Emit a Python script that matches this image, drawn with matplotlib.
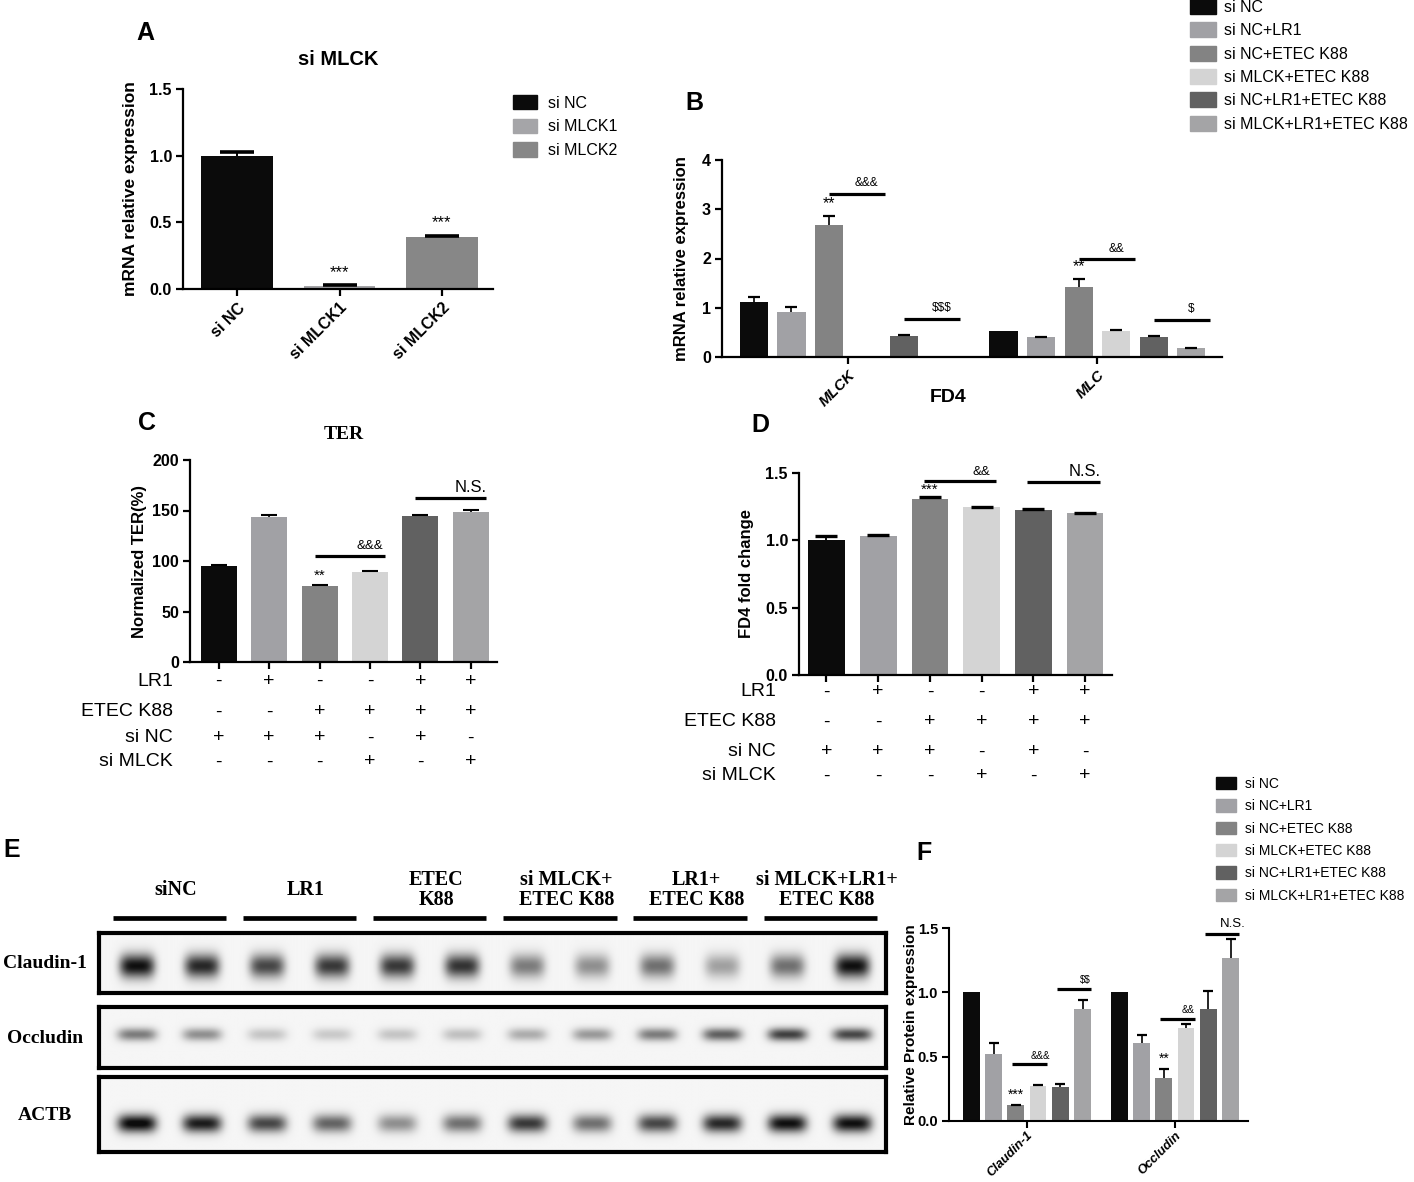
import numpy as np
import matplotlib
matplotlib.use('Agg')
import matplotlib.pyplot as plt
from matplotlib.patches import Patch

# ---------------- data ----------------
a_groups = ['si NC', 'si MLCK1', 'si MLCK2']
a_values = [1.0, 0.02, 0.39]
a_errors = [0.03, 0.01, 0.01]

treatments = ['si NC', 'si NC+LR1', 'si NC+ETEC K88', 'si MLCK+ETEC K88',
              'si NC+LR1+ETEC K88', 'si MLCK+LR1+ETEC K88']

b_genes = ['MLCK', 'MLC']
b_mlck = [1.12, 0.92, 2.69, 0.01, 0.43, 0.02]
b_mlck_err = [0.09, 0.09, 0.18, 0.0, 0.01, 0.0]
b_mlc = [0.52, 0.40, 1.43, 0.53, 0.40, 0.18]
b_mlc_err = [0.0, 0.01, 0.16, 0.01, 0.02, 0.01]

c_ter = [95.5, 144.0, 75.5, 89.5, 145.0, 148.5]
c_ter_err = [1.0, 1.5, 0.5, 0.4, 0.3, 1.8]

d_fd4 = [1.005, 1.035, 1.31, 1.245, 1.225, 1.20]
d_fd4_err = [0.025, 0.006, 0.01, 0.006, 0.01, 0.006]

table_rows = ['LR1', 'ETEC K88', 'si NC', 'si MLCK']
table_lr1 = ['-', '+', '-', '-', '+', '+']
table_etec = ['-', '-', '+', '+', '+', '+']
table_sinc = ['+', '+', '+', '-', '+', '-']
table_simlck = ['-', '-', '-', '+', '-', '+']

e_groups = ['siNC', 'LR1', 'ETEC\nK88', 'si MLCK+\nETEC K88', 'LR1+\nETEC K88',
            'si MLCK+LR1+\nETEC K88']
e_blots = ['Claudin-1', 'Occludin', 'ACTB']
e_claudin = [0.95, 0.85, 0.72, 0.78, 0.78, 0.80, 0.50, 0.42, 0.55, 0.35, 0.55, 0.95]
e_occludin = [0.50, 0.42, 0.20, 0.18, 0.20, 0.22, 0.30, 0.38, 0.50, 0.62, 0.75, 0.72]
e_actb = [1.00, 0.90, 0.72, 0.60, 0.42, 0.55, 0.78, 0.55, 0.72, 0.85, 0.95, 0.95]

f_proteins = ['Claudin-1', 'Occludin']
f_claudin = [1.0, 0.52, 0.122, 0.275, 0.265, 0.87]
f_claudin_err = [0.0, 0.09, 0.003, 0.006, 0.02, 0.07]
f_occludin = [1.0, 0.61, 0.333, 0.722, 0.87, 1.27]
f_occludin_err = [0.0, 0.06, 0.07, 0.03, 0.14, 0.145]

# significance marks: (group, bar_i, bar_j, line level, label)
b_sig = [(0, 2, 3, 3.31, '&&&'), (0, 4, 5, 0.77, '$$$'), (1, 2, 3, 1.98, '&&'), (1, 4, 5, 0.75, '$')]
c_sig = [(2, 3, 105, '&&&'), (4, 5, 162, 'N.S.')]
d_sig = [(2, 3, 1.438, '&&'), (4, 5, 1.43, 'N.S.')]
f_sig = [(0, 2, 3, 0.44, '&&&'), (0, 4, 5, 1.024, '$$'), (1, 2, 3, 0.795, '&&'), (1, 4, 5, 1.456, 'N.S.')]

# ---------------- style ----------------
W, H = 1414, 1182
SANS = 'Liberation Sans'
SERIF = 'Liberation Serif'
plt.rcParams['font.family'] = [SANS, 'DejaVu Sans']
plt.rcParams['text.parse_math'] = False
colors6 = ['#0b0b0b', '#a1a1a5', '#838383', '#d4d4d4', '#616161', '#a4a4a6']
colorsA = ['#0b0b0b', '#a5a5a8', '#878787']

fig = plt.figure(figsize=(W / 100, H / 100), dpi=100)


def rect(l, t, r, b):
    return [l / W, 1 - b / H, (r - l) / W, (b - t) / H]


def style(ax, lw=1.6):
    for s in ['top', 'right']:
        ax.spines[s].set_visible(False)
    for s in ['left', 'bottom']:
        ax.spines[s].set_linewidth(lw)
    ax.tick_params(width=lw, length=5, direction='out', pad=3)


def up_err(ax, x, y, e, cap, lw=1.3, ct=2.2):
    x = np.asarray(x, float); y = np.asarray(y, float); e = np.asarray(e, float)
    m = e > 0
    if not m.any():
        return
    _, caps, _ = ax.errorbar(x[m], y[m], yerr=[np.zeros(m.sum()), e[m]], fmt='none',
                             ecolor='black', elinewidth=lw, capsize=cap, capthick=ct,
                             zorder=3)
    caps[0].set_visible(False)


def yticks_bold(ax, ticks, fmt, size):
    ax.set_yticks(ticks, [fmt.format(t) for t in ticks], fontweight='bold', fontsize=size)


def sig(ax, x0, x1, yl, label, xt, size, dy):
    ax.plot([x0, x1], [yl, yl], color='black', lw=2.3, solid_capstyle='butt', clip_on=False)
    ax.text(xt, yl + dy, label, ha='center', va='bottom', fontsize=size, clip_on=False)


# ---------------- panel A ----------------
axA = fig.add_axes(rect(183, 89, 493, 289))
style(axA)
xa = np.arange(len(a_values))
axA.bar(xa, a_values, width=0.7, color=colorsA)
up_err(axA, xa, a_values, a_errors, cap=12, lw=1.4, ct=2.6)
axA.set_xlim(-0.53, 2.5)
axA.set_ylim(0, 1.5)
yticks_bold(axA, [0, 0.5, 1.0, 1.5], '{:.1f}', 11.5)
axA.set_xticks(xa, a_groups, rotation=45, ha='right', rotation_mode='anchor',
               fontweight='bold', fontsize=11.5)
axA.set_ylabel('mRNA relative expression', fontweight='bold', fontsize=12.5)
axA.yaxis.set_label_coords(-0.145, 0.5)
for i in (1, 2):
    axA.text(xa[i], a_values[i] + a_errors[i] + 0.04, '***', ha='center', va='bottom', fontsize=12)
axA.set_title('si MLCK', fontweight='bold', fontsize=14.5, pad=17)
axA.legend([Patch(color=c) for c in colorsA], a_groups, loc='upper left',
           bbox_to_anchor=(513 / W, 1 - 95 / H), bbox_transform=fig.transFigure,
           frameon=False, fontsize=11.5, handlelength=1.5, handleheight=1.0,
           labelspacing=0.5, handletextpad=0.7, borderpad=0, borderaxespad=0)

# ---------------- panel B ----------------
axB = fig.add_axes(rect(722, 160, 1222, 357))
style(axB)
gc = np.array([0.0, 6.65])
off = np.arange(6) - 2.5
for g, (vals, errs) in enumerate([(b_mlck, b_mlck_err), (b_mlc, b_mlc_err)]):
    xs = gc[g] + off
    axB.bar(xs, vals, width=0.75, color=colors6)
    up_err(axB, xs, vals, errs, cap=4.5, lw=1.2, ct=1.6)
    axB.text(xs[2], vals[2] + errs[2] + 0.1, '**', ha='center', va='bottom', fontsize=11.5)
for g, i, j, yl, lab in b_sig:
    x0 = gc[g] + off[i]
    x1 = gc[g] + off[j] + 0.5
    sig(axB, x0, x1, yl, lab, gc[g] + off[j], 8.5, 0.1)
axB.set_xlim(-3.35, 9.97)
axB.set_ylim(0, 4)
yticks_bold(axB, [0, 1, 2, 3, 4], '{:.0f}', 11.5)
axB.set_xticks(gc, b_genes, rotation=45, ha='right', rotation_mode='anchor',
               fontweight='bold', fontstyle='italic', fontsize=11)
axB.set_ylabel('mRNA relative expression', fontweight='bold', fontsize=12)
axB.yaxis.set_label_coords(-0.066, 0.5)
axB.legend([Patch(color=c) for c in colors6], treatments, loc='upper left',
           bbox_to_anchor=(1190 / W, 1 + 1 / H), bbox_transform=fig.transFigure,
           frameon=False, fontsize=11.5, handlelength=1.6, handleheight=1.05,
           labelspacing=0.47, handletextpad=0.55, borderpad=0, borderaxespad=0)
fig.text(948 / W, 1 - 398 / H, 'FD4', ha='center', va='center', fontweight='bold', fontsize=14)


# ---------------- table helper ----------------
def table(ax, rows_y, label_x, size):
    cols = [table_lr1, table_etec, table_sinc, table_simlck]
    xt = ax.get_xaxis_transform()
    for r, (name, col) in enumerate(zip(table_rows, cols)):
        ax.text(label_x, rows_y[r], name, transform=ax.transAxes, ha='right', va='center',
                fontsize=size, clip_on=False)
        for k, s in enumerate(col):
            ax.text(k, rows_y[r], s, transform=xt, ha='center', va='center',
                    fontsize=size, clip_on=False)


# ---------------- panel C ----------------
axC = fig.add_axes(rect(190, 460, 497, 662))
style(axC)
xc = np.arange(6)
axC.bar(xc, c_ter, width=0.715, color=colors6)
up_err(axC, xc, c_ter, c_ter_err, cap=5.5, lw=1.2, ct=1.5)
axC.set_xlim(-0.57, 5.52)
axC.set_ylim(0, 200)
yticks_bold(axC, [0, 50, 100, 150, 200], '{:.0f}', 11.5)
axC.set_xticks(xc, [''] * 6)
axC.set_ylabel('Normalized TER(%)', fontweight='bold', fontsize=12)
axC.yaxis.set_label_coords(-0.14, 0.5)
axC.text(xc[2], c_ter[2] + 3, '**', ha='center', va='bottom', fontsize=11)
for i, j, yl, lab in c_sig:
    sig(axC, xc[i] - 0.1, xc[j] + 0.3, yl, lab, xc[j], 9.5 if lab != 'N.S.' else 12, 3.5)
axC.set_title('TER', fontfamily=SERIF, fontweight='bold', fontsize=14, pad=15)
table(axC, [(662 - y) / 202 for y in (681, 712, 738, 762)], -0.055, 14)

# ---------------- panel D ----------------
axD = fig.add_axes(rect(799, 473, 1112, 675))
style(axD)
xd = np.arange(6)
axD.bar(xd, d_fd4, width=0.71, color=colors6)
up_err(axD, xd, d_fd4, d_fd4_err, cap=8, lw=1.3, ct=2.4)
axD.set_xlim(-0.53, 5.52)
axD.set_ylim(0, 1.5)
yticks_bold(axD, [0, 0.5, 1.0, 1.5], '{:.1f}', 11.5)
axD.set_xticks(xd, [''] * 6)
axD.set_ylabel('FD4 fold change', fontweight='bold', fontsize=12)
axD.yaxis.set_label_coords(-0.145, 0.5)
axD.text(xd[2], d_fd4[2] + 0.015, '***', ha='center', va='bottom', fontsize=11)
for i, j, yl, lab in d_sig:
    sig(axD, xd[i] - 0.12, xd[j] + 0.28, yl, lab, xd[j], 9.5 if lab != 'N.S.' else 12, 0.025)
table(axD, [(675 - y) / 202 for y in (692, 722, 752, 776)], -0.073, 14)

# ---------------- panel E (western blot) ----------------
ex0, ex1 = -0.58, 11.51
lanes = np.arange(12)
band_shapes = [(0.45, 0.27, 0.14), (0.55, 0.30, 0.075), (0.38, 0.30, 0.085)]
strip_px = [(933, 993), (1007, 1068), (1077, 1152)]
for (t, b), amps, (yc, sx, sy), name in zip(strip_px, [e_claudin, e_occludin, e_actb],
                                            band_shapes, e_blots):
    axE = fig.add_axes(rect(99, t, 886, b))
    gx = np.linspace(ex0, ex1, 900)
    gy = np.linspace(0, 1, 120)
    X, Y = np.meshgrid(gx, gy)
    Z = np.full_like(X, 0.04)
    for ln, amp in zip(lanes, amps):
        Z += amp * np.exp(-((X - ln) / sx) ** 4) * np.exp(-0.5 * ((Y - yc) / sy) ** 2)
    axE.imshow(np.clip(Z, 0, 1), cmap='gray_r', vmin=0, vmax=1.05, origin='lower',
               extent=[ex0, ex1, 0, 1], aspect='auto', interpolation='bilinear')
    axE.set_xlim(ex0, ex1)
    axE.set_ylim(0, 1)
    axE.set_xticks([]); axE.set_yticks([])
    for s in axE.spines.values():
        s.set_linewidth(3.0)
    fig.text(45 / W, 1 - ((t + b) / 2 + 1) / H, name, ha='center', va='center',
             fontfamily=SERIF, fontweight='bold', fontsize=14)

axH = fig.add_axes(rect(99, 840, 886, 930))
axH.set_xlim(ex0, ex1)
axH.set_ylim(930, 840)
axH.axis('off')
for g, lab in enumerate(e_groups):
    axH.plot([lanes[2 * g] - 0.37, lanes[2 * g + 1] + 0.37], [918, 918], color='black',
             lw=3.4, solid_capstyle='butt')
    axH.text((lanes[2 * g] + lanes[2 * g + 1]) / 2 + 0.1, 890, lab, ha='center', va='center',
             fontfamily=SERIF, fontweight='bold', fontsize=14.5, linespacing=1.0)

# ---------------- panel F ----------------
axF = fig.add_axes(rect(949, 928, 1248, 1121))
style(axF, lw=1.5)
axF.tick_params(axis='x', pad=1)
gf = np.array([0.0, 6.65])
for g, (vals, errs) in enumerate([(f_claudin, f_claudin_err), (f_occludin, f_occludin_err)]):
    xs = gf[g] + off
    axF.bar(xs, vals, width=0.75, color=colors6)
    up_err(axF, xs, vals, errs, cap=3.5, lw=1.2, ct=1.6)
    axF.text(xs[2], vals[2] + errs[2] + 0.025, '***' if g == 0 else '**', ha='center',
             va='bottom', fontsize=10)
for g, i, j, yl, lab in f_sig:
    x0 = gf[g] + off[i] - 0.16
    x1 = gf[g] + off[j] + 0.38
    sig(axF, x0, x1, yl, lab, gf[g] + off[j] + 0.1, 7 if lab != 'N.S.' else 9.5, 0.03)
axF.set_xlim(-3.5, 9.93)
axF.set_ylim(0, 1.5)
yticks_bold(axF, [0, 0.5, 1.0, 1.5], '{:.1f}', 10.5)
axF.set_xticks(gf, f_proteins, rotation=45, ha='right', rotation_mode='anchor',
               fontweight='bold', fontstyle='italic', fontsize=9.3)
axF.set_ylabel('Relative Protein expression', fontweight='bold', fontsize=11)
axF.yaxis.set_label_coords(-0.104, 0.5)
axF.legend([Patch(color=c) for c in colors6], treatments, loc='upper left',
           bbox_to_anchor=(1216 / W, 1 - 777 / H), bbox_transform=fig.transFigure,
           frameon=False, fontsize=10, handlelength=1.45, handleheight=1.0,
           labelspacing=0.6, handletextpad=0.65, borderpad=0, borderaxespad=0)

# ---------------- panel letters ----------------
for lab, (px, py) in zip('ABCDEF', [(145, 33), (694, 103), (147, 423), (760, 425),
                                     (12, 850), (924, 853)]):
    fig.text(px / W, 1 - py / H, lab, ha='center', va='center', fontweight='bold',
             fontsize=18)

fig.savefig('out.png', dpi=100)
